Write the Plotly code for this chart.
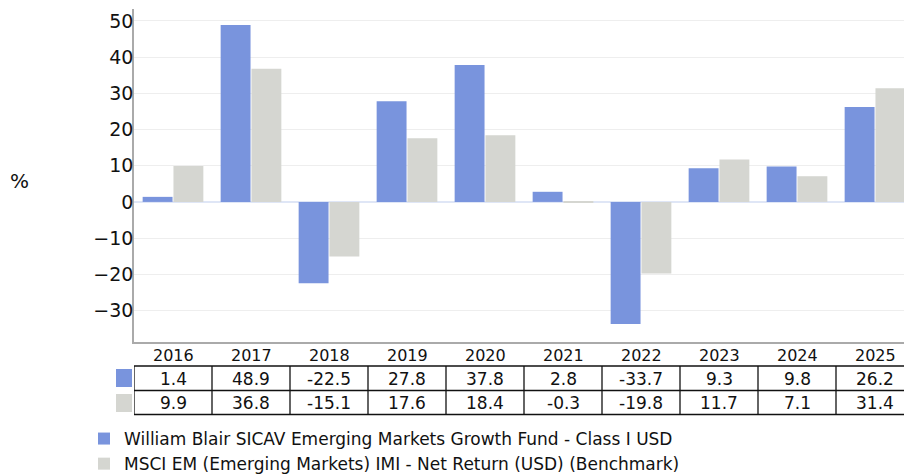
import plotly.graph_objects as go

years = ["2016", "2017", "2018", "2019", "2020", "2021", "2022", "2023", "2024", "2025"]
fund = [1.4, 48.9, -22.5, 27.8, 37.8, 2.8, -33.7, 9.3, 9.8, 26.2]
bench = [9.9, 36.8, -15.1, 17.6, 18.4, -0.3, -19.8, 11.7, 7.1, 31.4]
fund_name = "William Blair SICAV Emerging Markets Growth Fund - Class I USD"
bench_name = "MSCI EM (Emerging Markets) IMI - Net Return (USD) (Benchmark)"
yticks = [-30, -20, -10, 0, 10, 20, 30, 40, 50]

BLUE = "#7994dd"
GREY = "#d5d6d1"
FONT = "DejaVu Sans"

W, H = 904, 475
ML, MT, MB = 134, 9, 133
plot_h = H - MT - MB
plot_w = W - ML

def py(p):
    return (H - MB - p) / plot_h

def px(p):
    return (p - ML) / plot_w

fig = go.Figure()
fig.add_trace(go.Bar(x=list(range(len(years))), y=fund, name=fund_name,
                     marker=dict(color=BLUE, line=dict(width=0))))
fig.add_trace(go.Bar(x=list(range(len(years))), y=bench, name=bench_name,
                     marker=dict(color=GREY, line=dict(width=0))))

shapes = []
ann = []
n = len(years)
for p in [366, 390.5, 414.5]:
    shapes.append(dict(type="line", xref="x", yref="paper", x0=-0.5, x1=n - 0.5,
                       y0=py(p), y1=py(p), line=dict(color="#111111", width=1.3)))
for i in range(n + 1):
    shapes.append(dict(type="line", xref="x", yref="paper", x0=i - 0.5, x1=i - 0.5,
                       y0=py(366), y1=py(414.5), line=dict(color="#111111", width=1.3)))
shapes.append(dict(type="rect", xref="paper", yref="paper", x0=px(116), x1=px(132),
                   y0=py(369), y1=py(387), fillcolor=BLUE, line=dict(width=0)))
shapes.append(dict(type="rect", xref="paper", yref="paper", x0=px(116), x1=px(132),
                   y0=py(394), y1=py(412), fillcolor=GREY, line=dict(width=0)))

cell_font = dict(family=FONT, size=17, color="#111111")
head_font = dict(family=FONT, size=16, color="#111111")
for i in range(n):
    ann.append(dict(x=i, y=py(378.5), xref="x", yref="paper", text=f"{fund[i]}",
                    showarrow=False, font=cell_font, xanchor="center", yanchor="middle"))
    ann.append(dict(x=i, y=py(402.5), xref="x", yref="paper", text=f"{bench[i]}",
                    showarrow=False, font=cell_font, xanchor="center", yanchor="middle"))
    ann.append(dict(x=i, y=py(355.5), xref="x", yref="paper", text=years[i],
                    showarrow=False, font=head_font, xanchor="center", yanchor="middle"))

ann.append(dict(x=px(19), y=py(181), xref="paper", yref="paper", text="%",
                showarrow=False, font=dict(family=FONT, size=20, color="#111111"),
                xanchor="center", yanchor="middle"))

fig.update_layout(
    width=W, height=H,
    margin=dict(l=ML, r=0, t=MT, b=MB, autoexpand=False),
    paper_bgcolor="white", plot_bgcolor="white",
    barmode="group", bargap=0.21, bargroupgap=0.03,
    font=dict(family=FONT, size=16, color="#111111"),
    xaxis=dict(range=[-0.5, -0.5 + plot_w / 78.0], showticklabels=False, showgrid=False,
               zeroline=False, showline=True, linecolor="#aaaaaa", linewidth=1.5,
               ticks=""),
    yaxis=dict(range=[-38.7, 53.3], tickvals=yticks,
               ticktext=[str(v).replace("-", "\u2212") for v in yticks],
               showgrid=True, gridcolor="#eeeeee", gridwidth=1,
               zeroline=True, zerolinecolor="#dfe6f6", zerolinewidth=1.5,
               showline=True, linecolor="#aaaaaa", linewidth=1.5, ticks="",
               ticklabelstandoff=-5,
               tickfont=dict(family=FONT, size=19, color="#111111")),
    showlegend=True,
    legend=dict(x=px(84), y=py(421), xanchor="left", yanchor="top",
                orientation="v", bgcolor="rgba(0,0,0,0)",
                font=dict(family=FONT, size=17, color="#111111"),
                tracegroupgap=0, itemwidth=30),
    shapes=shapes, annotations=ann,
)

fig.write_html("out.html", config={"displayModeBar": False},
               post_script="document.body.style.margin='0px';")
